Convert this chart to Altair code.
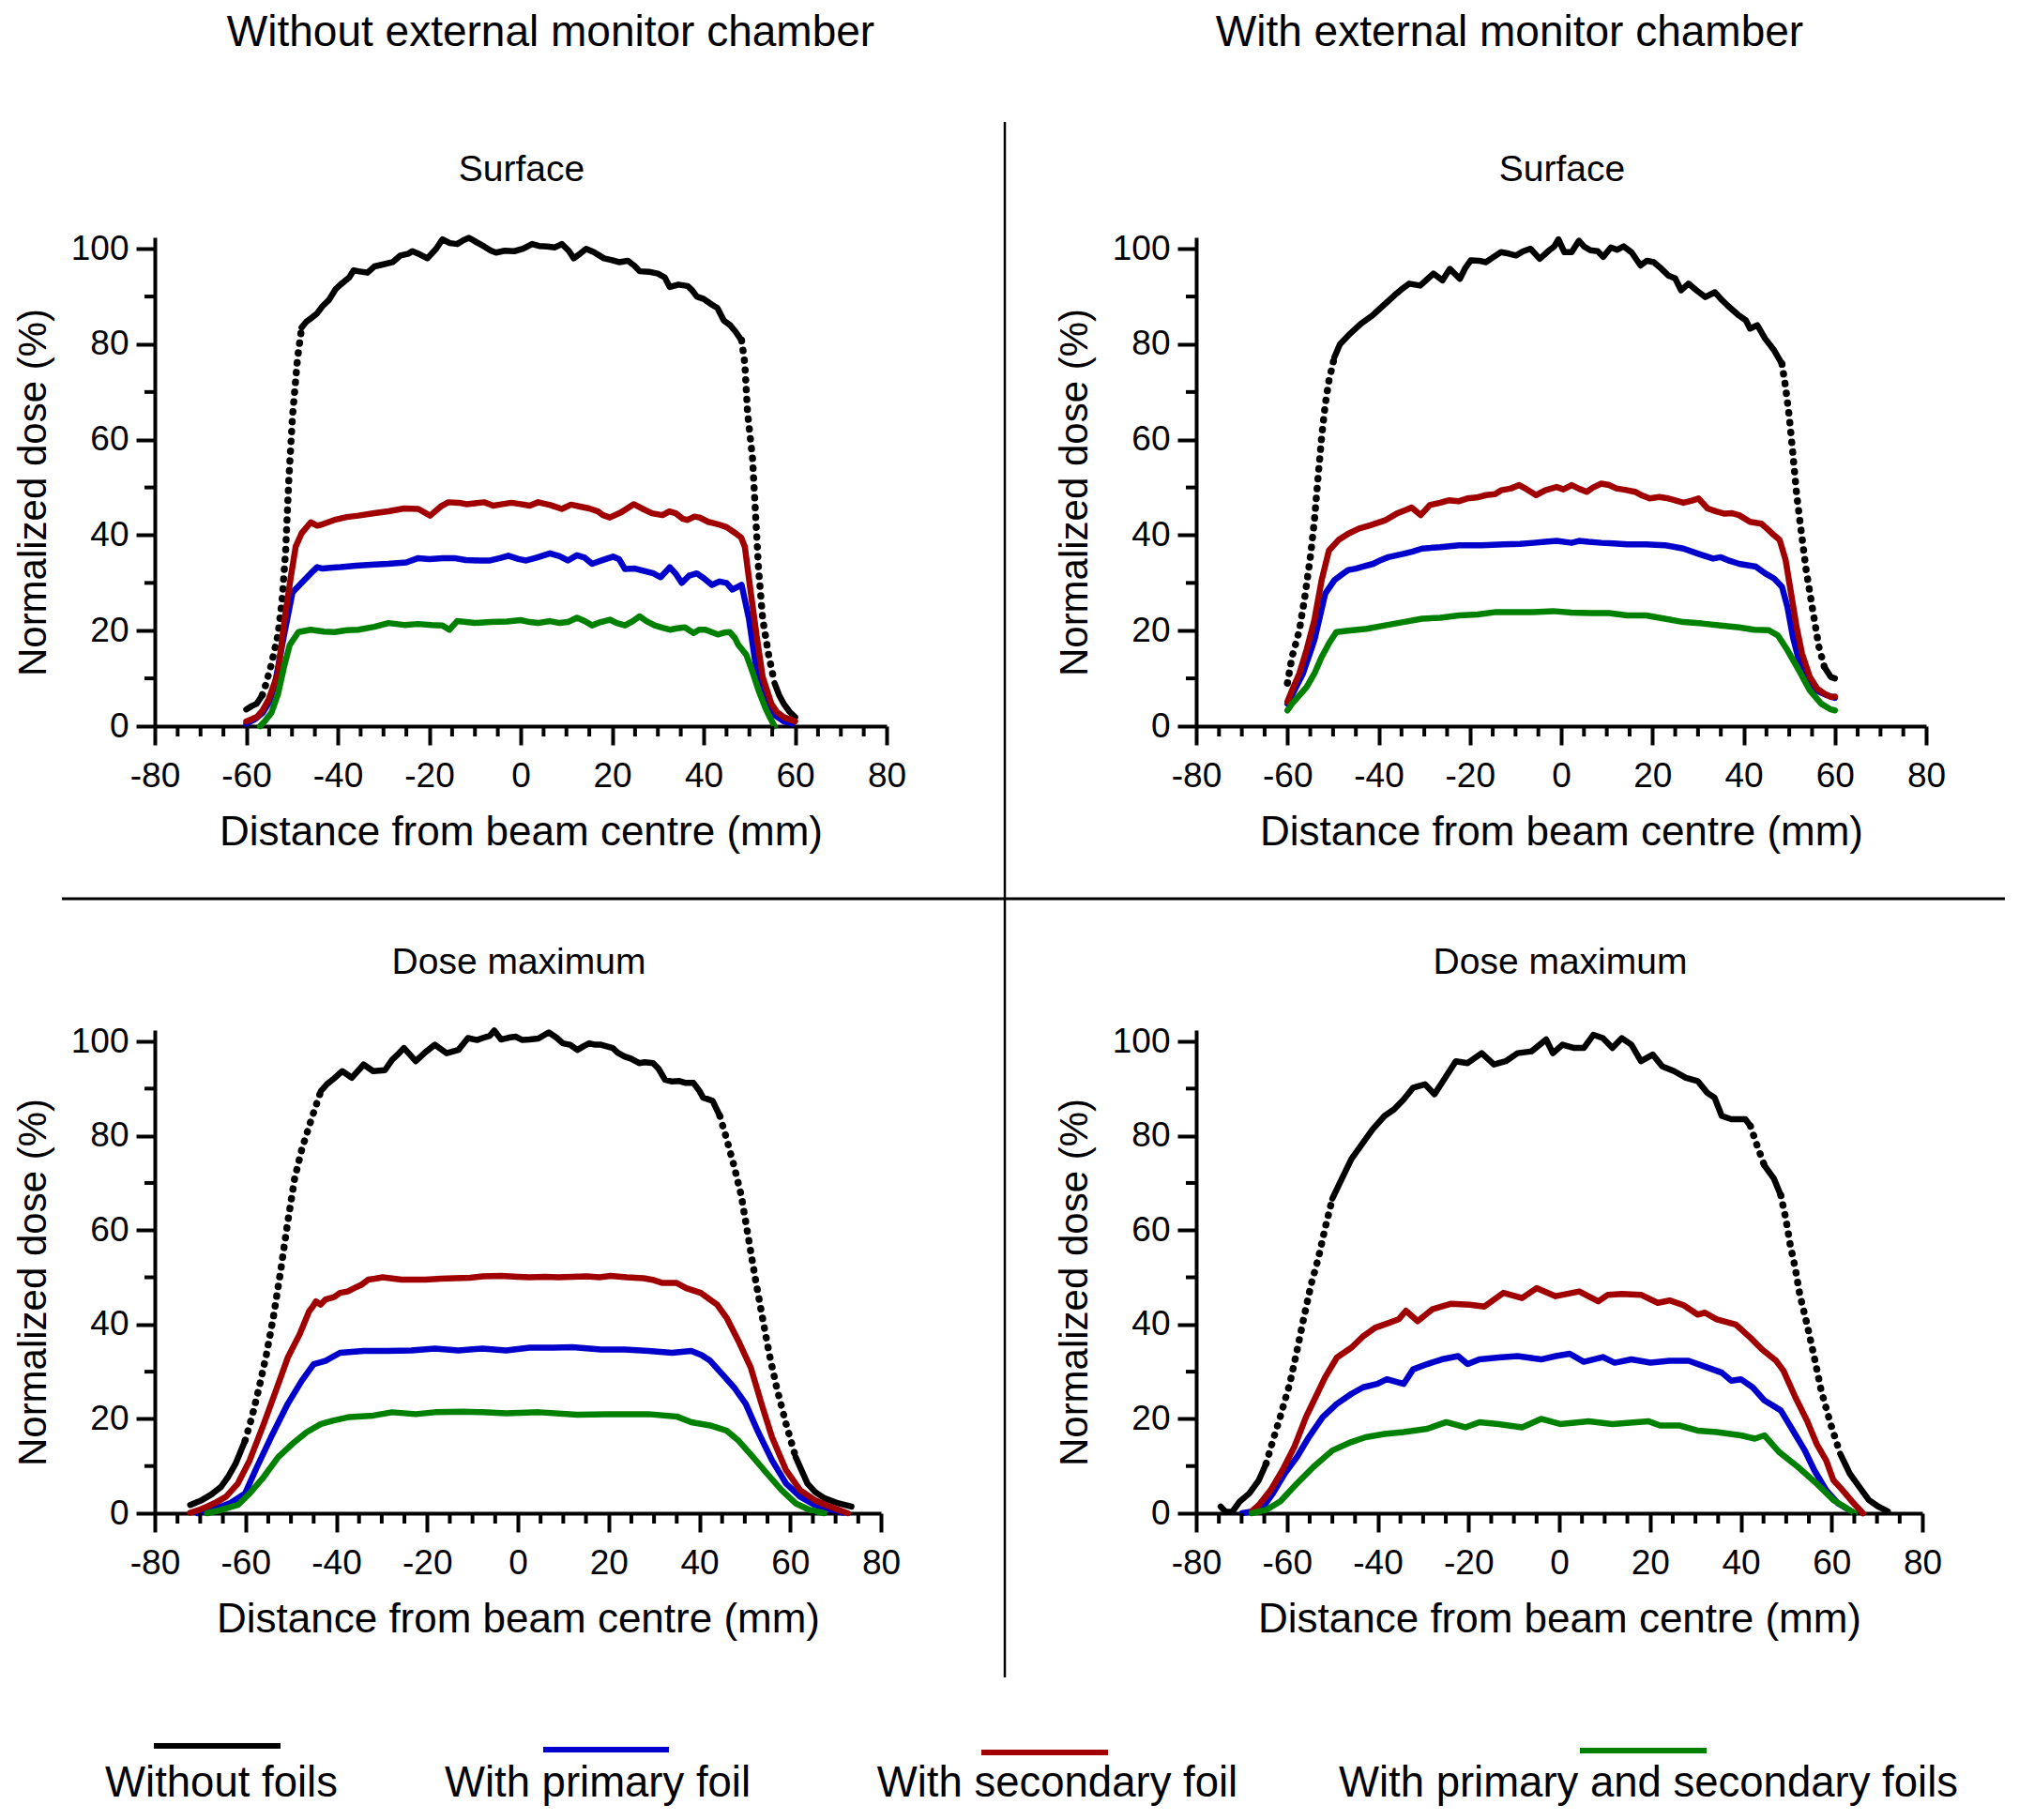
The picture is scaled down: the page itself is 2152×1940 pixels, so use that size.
import altair as alt
import pandas as pd

# ---------------------------------------------------------------- data
SERIES = ["Without foils", "With primary foil", "With secondary foil",
          "With primary and secondary foils"]
COLORS = ["#000000", "#0000CC", "#A00000", "#008000"]

COL_TITLES = ["Without external monitor chamber", "With external monitor chamber"]
ROW_TITLES = ["Surface", "Dose maximum"]
X_TITLE = "Distance from beam centre (mm)"
Y_TITLE = "Normalized dose (%)"
X_TICKS = [-80, -60, -40, -20, 0, 20, 40, 60, 80]
X_MINOR = [-75, -70, -65, -55, -50, -45, -35, -30, -25, -15, -10, -5,
           5, 10, 15, 25, 30, 35, 45, 50, 55, 65, 70, 75]
Y_TICKS = [0, 20, 40, 60, 80, 100]
Y_MINOR = [10, 30, 50, 70, 90]

# ---- Surface, without external monitor chamber
tl_black_x = [-60, -58.8, -57.7, -56.5, -55.8, -54.5, -53.1, -52.2, -51.4, -50.7, -49.9, -48.8, -47.9, -46.8,
              -45.9, -44.5, -43.3, -42, -40.5, -39.4, -37.5, -36.5, -35.5, -33.5, -32, -30.2, -28, -26.3,
              -24.5, -23.7, -22, -20.4, -18.5, -17.1, -15.5, -13.9, -12.5, -11.3, -9.5, -8, -6.5, -5.4,
              -3.5, -1.4, 0.5, 2.5, 4, 5.8, 7.5, 9, 10.5, 11.6, 13, 14.3, 16, 18.2, 20, 21.5, 23.4, 24.8,
              26, 28, 30, 31.5, 32.6, 34.5, 36.5, 37.5, 38.5, 40, 41.8, 43, 44.4, 45.8, 47, 48.3, 49,
              49.6, 50.7, 51.2, 52, 52.9, 54.2, 55.5, 56.5, 57.5, 58.8, 60]
tl_black_y = [3.5, 4.2, 4.7, 6.5, 8.5, 13, 19, 26, 36.6, 51.6, 64.8, 77, 83.5, 84.8,
              85.4, 86.5, 88, 89.2, 91.5, 92.5, 94, 95.5, 95.3, 95, 96.3, 96.7, 97.2, 98.6,
              99, 99.5, 98.8, 98, 100, 102, 101.2, 101, 101.8, 102.3, 101.3, 100.5, 99.6, 99.2,
              99.6, 99.5, 100, 101, 100.6, 100.5, 100.3, 101, 99.6, 98, 99, 100, 99.3, 98, 97.6, 97.2, 97.5, 96.5,
              95.3, 95.2, 94.8, 94, 92, 92.5, 92.2, 91.3, 90, 89.5, 88.3, 87.6, 85, 84, 82.6, 80.8, 76,
              65.7, 56, 47, 33, 22.5, 15, 9, 6.5, 4.7, 3, 1.9]
tl_blue_x = [-60, -58, -56.4, -55, -53.8, -51.8, -49.9, -47.9, -45.9, -44.5, -43.3, -41, -39.4, -36, -32.9,
             -29, -25, -22.4, -20, -17, -14.5, -12, -9, -6.7, -4.5, -2.7, -0.5, 1.2, 3.5, 6.4, 8.5, 10.3,
             12.3, 14, 15.6, 18, 20.2, 21.5, 22.8, 25, 27.4, 29, 30.6, 32.6, 34, 35.2, 36.8, 38.5, 40,
             41.8, 43.5, 45, 46.3, 48.3, 49.9, 51.2, 52.5, 54.8, 57.5, 59.4]
tl_blue_y = [0.5, 1.5, 2.8, 5, 8.5, 18.8, 28, 30, 32, 33.3, 33, 33.2, 33.3, 33.6, 33.8,
             34, 34.3, 35.2, 35, 35.2, 35.2, 34.8, 34.7, 34.7, 35.2, 35.7, 35, 34.7, 35.3, 36.2, 35.6, 34.7,
             35.8, 35.3, 34, 34.8, 35.5, 35, 32.9, 33, 32.4, 32, 31.2, 33.3, 31.8, 30, 31.5, 32, 31,
             29.6, 30.3, 30, 28.6, 29.6, 22.5, 14, 7.5, 2.8, 1, 0.5]
tl_red_x = [-60, -57.7, -56.5, -55.1, -53.1, -51.6, -50.3, -49.2, -47.9, -45.9, -44.5, -43.3, -40.7, -38,
            -35.5, -32, -28.9, -25.5, -22.4, -19.8, -17.5, -15.8, -13.5, -11.9, -10, -8, -6, -4, -2, 0, 2,
            3.8, 6.5, 9, 11, 13, 15, 16.9, 18, 19.5, 22, 24.7, 26.5, 28.7, 31, 32.5, 33.9, 35.5, 36.5,
            38, 39.1, 41, 43.1, 45, 47, 48.2, 49, 50.3, 51.6, 52.9, 54.8, 56, 57.5, 60]
tl_red_y = [1, 1.9, 3.2, 5.6, 11, 22.5, 31, 37.6, 40.4, 42.7, 42, 42.3, 43.2, 43.8,
            44.1, 44.6, 45, 45.6, 45.5, 44.1, 46, 46.9, 46.8, 46.5, 46.7, 46.9, 46.2, 46.5, 46.8, 46.5, 46.2,
            46.9, 46.3, 45.5, 46.4, 46, 45.6, 45, 44.2, 43.7, 44.8, 46.5, 45.6, 44.6, 44.2, 45, 44.6, 43.4, 43.2,
            43.9, 43.7, 42.8, 42.3, 41.7, 40.4, 39.5, 37.6, 28, 18.8, 10.3, 4.7, 3, 1.9, 1]
tl_green_x = [-57, -56, -54.5, -53.1, -51.8, -50.5, -48.6, -45.9, -43, -40.7, -38, -35.5, -32, -28.9,
              -25.5, -22.4, -19.5, -17.1, -15.6, -13.9, -10, -6.7, -3, 0, 2, 3.8, 6.4, 8.5, 10.3, 12.3,
              14, 15.6, 17.5, 19.5, 21, 22.8, 24.5, 26, 27.5, 29.3, 31, 32.6, 34.2, 35.9, 37.8, 39,
              40.4, 42, 43.1, 44.5, 45.7, 46.8, 47.6, 49.3, 50.7, 52, 53.5, 54.5, 55.5]
tl_green_y = [0, 1, 2.8, 6.6, 12.2, 17, 19.7, 20.2, 19.8, 19.7, 20.1, 20.2, 20.8, 21.6,
              21.2, 21.4, 21.2, 21.1, 20.2, 22, 21.6, 21.8, 21.9, 22.2, 21.8, 21.6, 22, 21.6, 21.8, 22.7,
              22, 21.1, 21.8, 22.3, 21.6, 21.1, 22, 23, 22, 21.1, 20.6, 20.2, 20.5, 20.7, 19.5, 20.2,
              20.2, 19.6, 19.2, 19.6, 19.7, 18.5, 17, 15, 11.3, 7.5, 3.8, 1.8, 0]

# ---- Surface, with external monitor chamber
tr_black_x = [-60, -59, -57.4, -56.2, -54.9, -54.1, -53.3, -52.5, -51.7, -50.9, -49.7, -48.5, -46.3, -43.9,
              -41.4, -39, -36.6, -35, -33.3, -30.9, -29.5, -28, -26, -24.4, -22.2, -21, -19.8, -18, -16.5,
              -14.8, -13.2, -11.5, -9.9, -8.3, -6.7, -4.7, -2.6, -1.5, -0.6, 0.7, 2.3, 3.9, 5, 6.4, 8,
              9.2, 10.9, 12.3, 13.7, 15.4, 17.4, 18.8, 20.3, 22, 23.5, 25, 26.3, 27.9, 29.8, 31.6, 33.7,
              35, 36.5, 39, 40.5, 41.4, 43, 44.7, 46.7, 48.4, 49.2, 50, 50.8, 51.6, 52.5, 53.7, 54.9,
              56.5, 57.7, 59.1, 60]
tr_black_y = [9, 14.5, 20, 27, 36, 43, 52, 60.6, 67.5, 72.4, 77.3, 80, 82.2, 84.3,
              86, 88.1, 90.2, 91.5, 92.7, 92.3, 93.5, 94.8, 93.4, 95.8, 93.7, 96, 97.6, 97.5, 97.2,
              98.3, 99.3, 99, 98.6, 99.5, 100, 97.9, 99.7, 100.5, 102, 99.3, 99.3, 101.7, 100.5, 99.7, 99.5,
              98.3, 100.3, 99.8, 100.5, 99.3, 96.5, 97.5, 97.2, 95.8, 94.4, 93.8, 91.3, 92.7, 91.2, 89.9, 90.9,
              89.5, 88.1, 86, 85, 83.3, 84, 81.2, 78.7, 75.9, 71, 64.8, 57, 48.7, 41.7, 32.7, 25.7,
              16.6, 12.4, 10.3, 10]
tr_blue_x = [-60, -59, -56.6, -54.1, -51.7, -49.7, -48, -46.7, -45, -43.6, -41.2, -39.5, -37.9, -34.6, -32.5,
             -30.5, -26.5, -22.4, -17.5, -12.6, -9, -6.1, -3.5, -1, 2.3, 3.9, 6, 8.8, 11.5, 14.5, 18.6,
             22.7, 26.8, 30.1, 33.3, 35, 37, 39, 42.7, 44.7, 46.7, 48.4, 49.6, 50.8, 52.1, 53.3, 54.9,
             56.5, 58.2, 60]
tr_blue_y = [4.7, 6.5, 11, 18, 27.8, 30.6, 31.8, 32.7, 33, 33.4, 34, 34.8, 35.4, 36.1, 36.6,
             37.2, 37.5, 37.9, 37.9, 38.1, 38.2, 38.4, 38.6, 38.8, 38.4, 38.8, 38.6, 38.4, 38.3, 38.1, 38.1,
             37.9, 37.2, 36.1, 35.1, 35.4, 34.6, 34, 33.4, 32, 30.9, 29.2, 25, 18.7, 13.8, 10.3, 8.2,
             7.2, 6.5, 5.9]
tr_red_x = [-60, -59, -57.4, -55.8, -54.1, -52.5, -50.9, -48.8, -46.7, -44.3, -41.8, -38.6, -36.1, -34,
            -32.8, -30.8, -28.8, -26.5, -24.7, -22.5, -20.6, -18.5, -16.5, -14.5, -13.2, -11, -9.2, -7.5,
            -5.5, -3.5, -1, 0.5, 2.3, 4, 5.6, 7, 8.8, 10.5, 12.1, 14, 16.2, 17.8, 19.4, 21.5, 23.5, 25,
            26.8, 28.5, 30.1, 32.1, 34, 35.8, 37.5, 39, 41.4, 43.9, 45.2, 46.3, 47.9, 49.2, 50.4, 51.6,
            52.8, 54.5, 56.1, 57.7, 59.1, 60]
tr_red_y = [5.1, 7.5, 11, 16, 22.2, 30.6, 36.8, 39, 40.3, 41.4, 42.1, 43.1, 44.5, 45.3,
            45.8, 44.2, 46.3, 46.8, 47.3, 47.1, 47.7, 47.9, 48.4, 48.6, 49.4, 49.8, 50.5, 49.6,
            48.4, 49.4, 50.1, 49.6, 50.5, 49.7, 49.1, 50, 50.8, 50.5, 49.8, 49.5, 49.1, 48.3, 47.7, 48, 47.7, 47.3,
            46.8, 47.2, 47.7, 45.6, 45, 44.5, 44.6, 44.2, 42.8, 42.4, 41.3, 40.3, 39, 34.8, 27.8, 20.8,
            15.2, 10.3, 7.9, 6.8, 6.1, 6.2]
tr_green_x = [-60, -59, -57.5, -55.8, -54, -52.5, -50.8, -49.3, -46.7, -42.6, -38.6, -34.6, -30.5, -26.5,
              -22.4, -18.3, -14.3, -10.2, -6.1, -1.8, 2.3, 6.4, 10.5, 14.5, 18.6, 22.7, 26.8, 30.9, 35,
              39, 42.3, 45.5, 47.5, 49.6, 52.1, 54.5, 57, 59.1, 60]
tr_green_y = [3.3, 4.7, 6.3, 8.2, 11.2, 14.5, 17.5, 19.7, 20, 20.4, 21.1, 21.8, 22.5, 22.7,
              23.2, 23.4, 23.9, 23.9, 23.9, 24.1, 23.8, 23.7, 23.7, 23.2, 23.2, 22.5, 21.8, 21.5, 21.1,
              20.7, 20.2, 20.1, 19, 15.9, 11.7, 7.5, 4.7, 3.5, 3.3]

# ---- Dose maximum, without external monitor chamber
bl_black_x = [-72.2, -69.6, -67.5, -65.4, -63.8, -62.2, -60.1, -58.6, -57, -55.4, -53.9, -52.3, -50.7, -49.2,
              -47.6, -45.5, -43.4, -42, -40.8, -38.7, -36.6, -34, -31.9, -29.3, -27.7, -26.5, -25.1, -22.5,
              -20.4, -18.3, -15.7, -13.1, -11, -9, -7.8, -6.2, -5.2, -3.7, -2, -0.5, 1, 2.6, 4.5, 6.8, 8.5,
              9.9, 11.5, 13.1, 14.5, 15.7, 17, 18.3, 20.9, 22, 23.5, 25, 26.7, 28, 29.8, 31, 32.4, 34, 35.6,
              37, 38.7, 40, 40.8, 42.9, 44.5, 46, 47.6, 49.2, 50.7, 52.3, 53.9, 55.4, 57, 59.1, 61.2, 63.8,
              65.5, 67.5, 70.6, 73.5]
bl_black_y = [1.75, 2.8, 4, 5.6, 7.8, 10.5, 15.4, 20.4, 26.7, 33.7, 41.4, 51.2, 61.8, 70.9,
              77.2, 83.5, 89.5, 91, 91.9, 93.7, 92.3, 95.1, 93.7, 93.9, 96.1, 97.2, 98.6, 95.8,
              97.7, 99.3, 97.5, 98.2, 100.7, 100.3, 100.7, 101.2, 102.3, 100.4, 100.8, 101, 100.3, 100.4, 100.6, 101.9, 100.8,
              99.6, 99.3, 98.2, 99, 99.6, 99.3, 99.3, 98.6, 97.6, 96.8, 96.3, 95.4, 95.6, 95.4, 94.2, 91.9, 91.5, 91.6,
              91.2, 91.2, 89.5, 88.1, 87.4, 84.2, 79.3, 73.7, 67.4, 58.9, 49.8, 41.4, 33.7, 26.7, 18.9, 11.9, 6.3,
              4.5, 3.2, 2.1, 1.4]
bl_blue_x = [-70.6, -67.5, -65.5, -63.3, -60.1, -57.5, -54.4, -50.7, -47.6, -45, -42.4, -39.2, -34, -28.8,
             -23.5, -18.3, -13.1, -7.8, -2.6, 2.6, 7.8, 12, 18.3, 23.5, 28.8, 34, 38.2, 40.5, 42.4, 45,
             47.6, 50.2, 52.8, 56, 59.1, 62.2, 65.4, 69.6, 71.7]
bl_blue_y = [0, 0.8, 1.4, 2.2, 4.2, 9.8, 16.1, 23.2, 28.1, 31.6, 32.3, 34, 34.4, 34.4,
             34.5, 34.9, 34.5, 34.9, 34.5, 35.1, 35.1, 35.2, 34.7, 34.7, 34.4, 34, 34.4, 33.5, 32.3, 29.5,
             26.7, 23.2, 17.5, 11.2, 6.3, 3.5, 1.75, 0.6, 0.1]
bl_red_x = [-72.2, -70, -68.5, -66.5, -64.3, -61.7, -59.1, -56, -53.3, -50.7, -48.1, -46, -45.2, -44.5,
            -43.5, -42.4, -40.5, -39.2, -37.5, -36.1, -34.5, -33, -31.5, -29.8, -25.6, -20.4, -17, -14.1,
            -10.5, -7.8, -3.7, 0, 2.6, 6, 8.9, 12, 15.2, 18, 20.4, 24, 27.7, 30, 31.9, 35, 37.1, 40.3,
            42, 43.9, 46, 48.6, 51.3, 53.9, 56, 59.1, 62.2, 65.4, 67.5, 69.6, 72.7]
bl_red_y = [0.1, 0.8, 1.4, 2.3, 3.5, 6.3, 11.2, 18.9, 26, 33, 37.9, 42.8, 43.8, 44.9,
            44.2, 45.3, 45.8, 46.7, 47, 47.7, 48.4, 49.5, 49.7, 50, 49.5, 49.5, 49.7, 49.8,
            49.9, 50.2, 50.3, 50.1, 50, 50.1, 50, 50.1, 50.2, 50, 50.3, 50, 49.8, 49.4, 48.8, 48.8, 47.7, 46.7,
            45.5, 44.2, 41.4, 36.5, 30.9, 22.5, 16.1, 9.1, 4.9, 2.8, 1.9, 1.1, 0]
bl_green_x = [-68.5, -65.4, -61.7, -59.1, -56, -52.8, -49.7, -46.5, -43.4, -40.8, -37.1, -31.9, -27.7, -22.5,
              -18.3, -12, -7.8, -2.6, 4.7, 13.1, 19.4, 28.8, 35, 38.2, 42.4, 46, 48.6, 51.8, 54.9, 58.1,
              61.2, 64.3, 67.5]
bl_green_y = [0, 0.7, 1.75, 4.2, 7.7, 11.9, 14.7, 17.2, 18.9, 19.6, 20.4, 20.7, 21.4, 21,
              21.4, 21.5, 21.4, 21.2, 21.4, 20.9, 21, 21, 20.5, 19.3, 18.6, 17.5, 15.4, 11.9, 8.4, 4.9,
              2.1, 0.7, 0]

# ---- Dose maximum, with external monitor chamber
br_black_x = [-74.6, -73.5, -72, -70.4, -68.3, -66.2, -64.6, -63.1, -61.5, -59.4, -57.8, -56.3, -54.7, -53.1,
              -51.6, -50, -47.9, -45.8, -43.7, -41.1, -38.5, -36.4, -34.3, -32.2, -29.6, -27.5, -25.4, -22.8,
              -20.2, -17.1, -14.4, -11.8, -9.2, -6.1, -2.9, -1.4, 0.7, 3.3, 5.4, 7.5, 9.6, 11.7, 13.8, 15.9,
              18, 20.6, 22.7, 25.3, 27.9, 30.5, 32.6, 34.2, 35.8, 37.9, 41, 42.1, 43.6, 45.2, 47.3, 48.8,
              49.9, 50.9, 52, 53, 54.6, 56.2, 57.7, 59.8, 61.9, 64, 66.1, 68.2, 70.3, 72.4]
br_black_y = [1.4, 0.3, 0.35, 2.5, 4.2, 7, 10.5, 15.4, 20.4, 27.4, 34.4, 41.4, 48.4, 54,
              60.4, 66.7, 70.9, 75.1, 77.9, 81.4, 84.2, 85.6, 87.7, 90.2, 90.9, 88.8, 91.9, 95.8,
              95.4, 97.5, 95.1, 95.8, 97.5, 97.9, 100.4, 97.5, 99.3, 98.6, 98.6, 101.4, 100.7, 98.6, 100.7, 99.3,
              95.8, 97.2, 94.7, 93.7, 92.3, 91.6, 89.1, 88.1, 84.2, 83.5, 83.5, 82.1, 77.9, 73.7, 70.9, 67.4,
              62.5, 56.8, 51.9, 46.3, 40, 33, 26, 18.9, 12.6, 8.4, 5.6, 2.8, 1.4, 0.35]
br_blue_x = [-69.9, -65.7, -63.1, -60.5, -57.8, -55.2, -52.1, -49, -45.8, -43.2, -40.1, -38, -34.3, -32.2,
             -29.1, -25.9, -22.3, -20.2, -17.6, -13.4, -9.2, -4, -0.8, 2.3, 5.4, 9.6, 12.2, 15.9, 20.1,
             24.3, 28.5, 32.6, 35.8, 37.9, 40, 42.6, 45.2, 48.8, 51.5, 54.1, 56.2, 58.8, 61.4, 65.1]
br_blue_y = [0, 0.7, 4.2, 8.4, 11.9, 16.1, 20.4, 23.2, 25.3, 26.7, 27.4, 28.4, 27.4, 30.5,
             31.6, 32.6, 33.3, 31.6, 32.6, 33, 33.3, 32.6, 33.3, 33.8, 32.1, 33.1, 31.9, 32.6, 31.9,
             32.3, 32.3, 30.9, 29.8, 28.1, 28.4, 26.7, 23.9, 21.8, 17.5, 13.3, 9.1, 4.9, 2.1, 0]
br_red_x = [-67.8, -66.2, -63.6, -61, -58.4, -55.8, -53.7, -51.6, -49, -45.8, -43.2, -40.6, -37.4, -35.4,
            -33.8, -31.2, -28, -23.8, -19.7, -16.5, -12.3, -8.2, -5, -0.8, 4.4, 8.6, 10.7, 13.8, 18, 21.7,
            24.3, 27.4, 30.5, 32.1, 34.7, 38.9, 42.1, 44.7, 47.8, 49.4, 52, 54.6, 56.7, 58.8, 60.4, 62.4,
            64.5, 66.9]
br_red_y = [0.35, 1.75, 4.9, 9.1, 14, 20.4, 24.6, 28.8, 33, 35.1, 37.5, 39.3, 40.4, 41.1,
            42.9, 40.7, 43.2, 44.4, 44.2, 43.8, 46.7, 45.6, 47.7, 46, 47, 44.9, 46.3, 46.5, 46.3, 44.6,
            45.1, 44.1, 42.1, 42.5, 41.1, 40, 37.2, 34.7, 32.3, 30.2, 24.6, 19.6, 14.7, 11.2, 7, 4.9,
            2.5, 0]
br_green_x = [-67.8, -64.6, -61.5, -57.8, -54.2, -50, -45.8, -42.7, -38.5, -34.3, -29.1, -24.9, -20.7, -17.6,
              -13.4, -8.2, -4, 0.2, 6.5, 11.7, 19.6, 22.2, 26.4, 30.5, 34.7, 40, 43.1, 45.2, 48.4, 52.6,
              56.7, 60.4, 65.1]
br_green_y = [0, 0.7, 2.5, 6.3, 9.8, 13.3, 15.1, 16.1, 16.8, 17.2, 17.9, 19.3, 18.2, 19.3,
              18.9, 18.2, 20, 18.9, 19.5, 18.9, 19.5, 18.6, 18.6, 17.5, 17.2, 16.5, 15.8, 16.5, 13, 9.8,
              6.3, 2.8, 0]

PANELS = {
    "tl": [(tl_black_x, tl_black_y), (tl_blue_x, tl_blue_y), (tl_red_x, tl_red_y), (tl_green_x, tl_green_y)],
    "tr": [(tr_black_x, tr_black_y), (tr_blue_x, tr_blue_y), (tr_red_x, tr_red_y), (tr_green_x, tr_green_y)],
    "bl": [(bl_black_x, bl_black_y), (bl_blue_x, bl_blue_y), (bl_red_x, bl_red_y), (bl_green_x, bl_green_y)],
    "br": [(br_black_x, br_black_y), (br_blue_x, br_blue_y), (br_red_x, br_red_y), (br_green_x, br_green_y)],
}

FONT = "Liberation Sans"


def series_rows(xs, ys, name, steep):
    """Split a curve into runs: steep runs are drawn dotted (sparse samples)."""
    styles = []
    for i in range(len(xs) - 1):
        slope = abs(ys[i + 1] - ys[i]) / (xs[i + 1] - xs[i])
        styles.append("dotted" if (steep and slope > 2.6) else "solid")
    rows, i, seg = [], 0, 0
    while i < len(styles):
        j = i
        while j + 1 < len(styles) and styles[j + 1] == styles[i]:
            j += 1
        for k in range(i, j + 2):
            rows.append({"series": name, "seg": f"{name}-{seg}", "style": styles[i],
                         "x": xs[k], "y": ys[k]})
        seg += 1
        i = j + 1
    return rows


def one():
    return alt.Chart(pd.DataFrame({"k": [0]}))


def text_layer(txt, x, y, size):
    return one().mark_text(text=txt, font=FONT, fontSize=size, align="center",
                           baseline="alphabetic", color="black").encode(
        x=alt.value(x), y=alt.value(y))


def panel(key, w, h, subtitle, extra=None):
    xs = alt.Scale(domain=[-80, 80], nice=False, zero=False)
    ys = alt.Scale(domain=[0, 102.4], nice=False, zero=False)
    cs = alt.Scale(domain=SERIES, range=COLORS)
    xaxis = alt.Axis(values=X_TICKS, title=X_TITLE, labelExpr="'' + datum.value",
                     tickSize=20, tickWidth=4, domainWidth=4, domainColor="black", tickColor="black",
                     labelFont=FONT, labelFontSize=37, labelColor="black", labelPadding=44,
                     labelBaseline="alphabetic", labelFlush=False, labelOverlap=False,
                     titleFont=FONT, titleFontSize=44, titleFontWeight="normal", titleColor="black",
                     titleBaseline="alphabetic", titleY=126, titleX=w / 2, grid=False)
    yaxis = alt.Axis(values=Y_TICKS, title=Y_TITLE, labelExpr="'' + datum.value",
                     tickSize=20, tickWidth=4, domainWidth=4, domainColor="black", tickColor="black",
                     labelFont=FONT, labelFontSize=37, labelColor="black", labelPadding=8,
                     labelFlush=False, labelOverlap=False,
                     titleFont=FONT, titleFontSize=42, titleFontWeight="normal", titleColor="black",
                     titleAngle=270, titleBaseline="alphabetic", titleAlign="center",
                     titleX=-117, titleY=h / 2 + 11, grid=False)
    layers = []
    for (sx, sy), name in zip(PANELS[key], SERIES):
        df = pd.DataFrame(series_rows(sx, sy, name, name == SERIES[0]))
        for style in ["solid", "dotted"]:
            sub = df[df["style"] == style]
            if sub.empty:
                continue
            if style == "solid":
                mk = alt.Chart(sub).mark_line(strokeWidth=6.5, strokeCap="round", strokeJoin="round")
            else:
                mk = alt.Chart(sub).mark_line(strokeWidth=7.5, strokeCap="round", strokeDash=[0.5, 10])
            layers.append(mk.encode(
                x=alt.X("x:Q", scale=xs, axis=xaxis),
                y=alt.Y("y:Q", scale=ys, axis=yaxis),
                color=alt.Color("series:N", scale=cs, legend=None),
                detail="seg:N"))
    # minor ticks
    layers.append(alt.Chart(pd.DataFrame({"v": X_MINOR})).mark_rule(strokeWidth=4, color="black").encode(
        x=alt.X("v:Q", scale=xs, axis=xaxis), y=alt.value(h), y2=alt.value(h + 11)))
    layers.append(alt.Chart(pd.DataFrame({"v": Y_MINOR})).mark_rule(strokeWidth=4, color="black").encode(
        y=alt.Y("v:Q", scale=ys, axis=yaxis), x=alt.value(-11), x2=alt.value(0)))
    layers.append(text_layer(subtitle, w / 2 + 1, -60, 39))
    if extra:
        layers.extend(extra)
    return alt.layer(*layers).properties(width=w, height=h)


# decorations, positioned relative to the top-left panel
decor = [
    # anchor at the page corner (white, invisible)
    one().mark_rule(color="white", strokeWidth=1).encode(
        x=alt.value(-156.5), x2=alt.value(-155.5), y=alt.value(-244.5)),
    text_layer(COL_TITLES[0], 422, -204, 46),
    text_layer(COL_TITLES[1], 1444, -204, 46),
    one().mark_rule(color="black", strokeWidth=2.5).encode(
        x=alt.value(906), y=alt.value(-123), y2=alt.value(1535)),
    one().mark_rule(color="black", strokeWidth=3).encode(
        x=alt.value(-99), x2=alt.value(1972), y=alt.value(705)),
]
LEG_LINE_X = [(-1, 134), (414, 548), (881, 1016), (1519, 1654)]
LEG_LINE_Y = [1608, 1612, 1615, 1613]
LEG_TEXT_X = [71, 472, 962, 1592]
for i, name in enumerate(SERIES):
    decor.append(one().mark_rule(strokeWidth=6, strokeCap="butt", color=COLORS[i]).encode(
        x=alt.value(LEG_LINE_X[i][0]), x2=alt.value(LEG_LINE_X[i][1]), y=alt.value(LEG_LINE_Y[i])))
    decor.append(text_layer(name, LEG_TEXT_X[i], 1662, 45.5))

tl = panel("tl", 780, 521, ROW_TITLES[0], decor)
tr = panel("tr", 778, 521, ROW_TITLES[0])
bl = panel("bl", 774, 515, ROW_TITLES[1])
br = panel("br", 774, 515, ROW_TITLES[1])

chart = alt.concat(tl, tr, bl, br, columns=2, spacing={"row": 324, "column": 330},
                   bounds="flush").properties(padding=0).configure_view(stroke=None)

chart.save("out.html", embed_options={"renderer": "svg", "actions": False})
